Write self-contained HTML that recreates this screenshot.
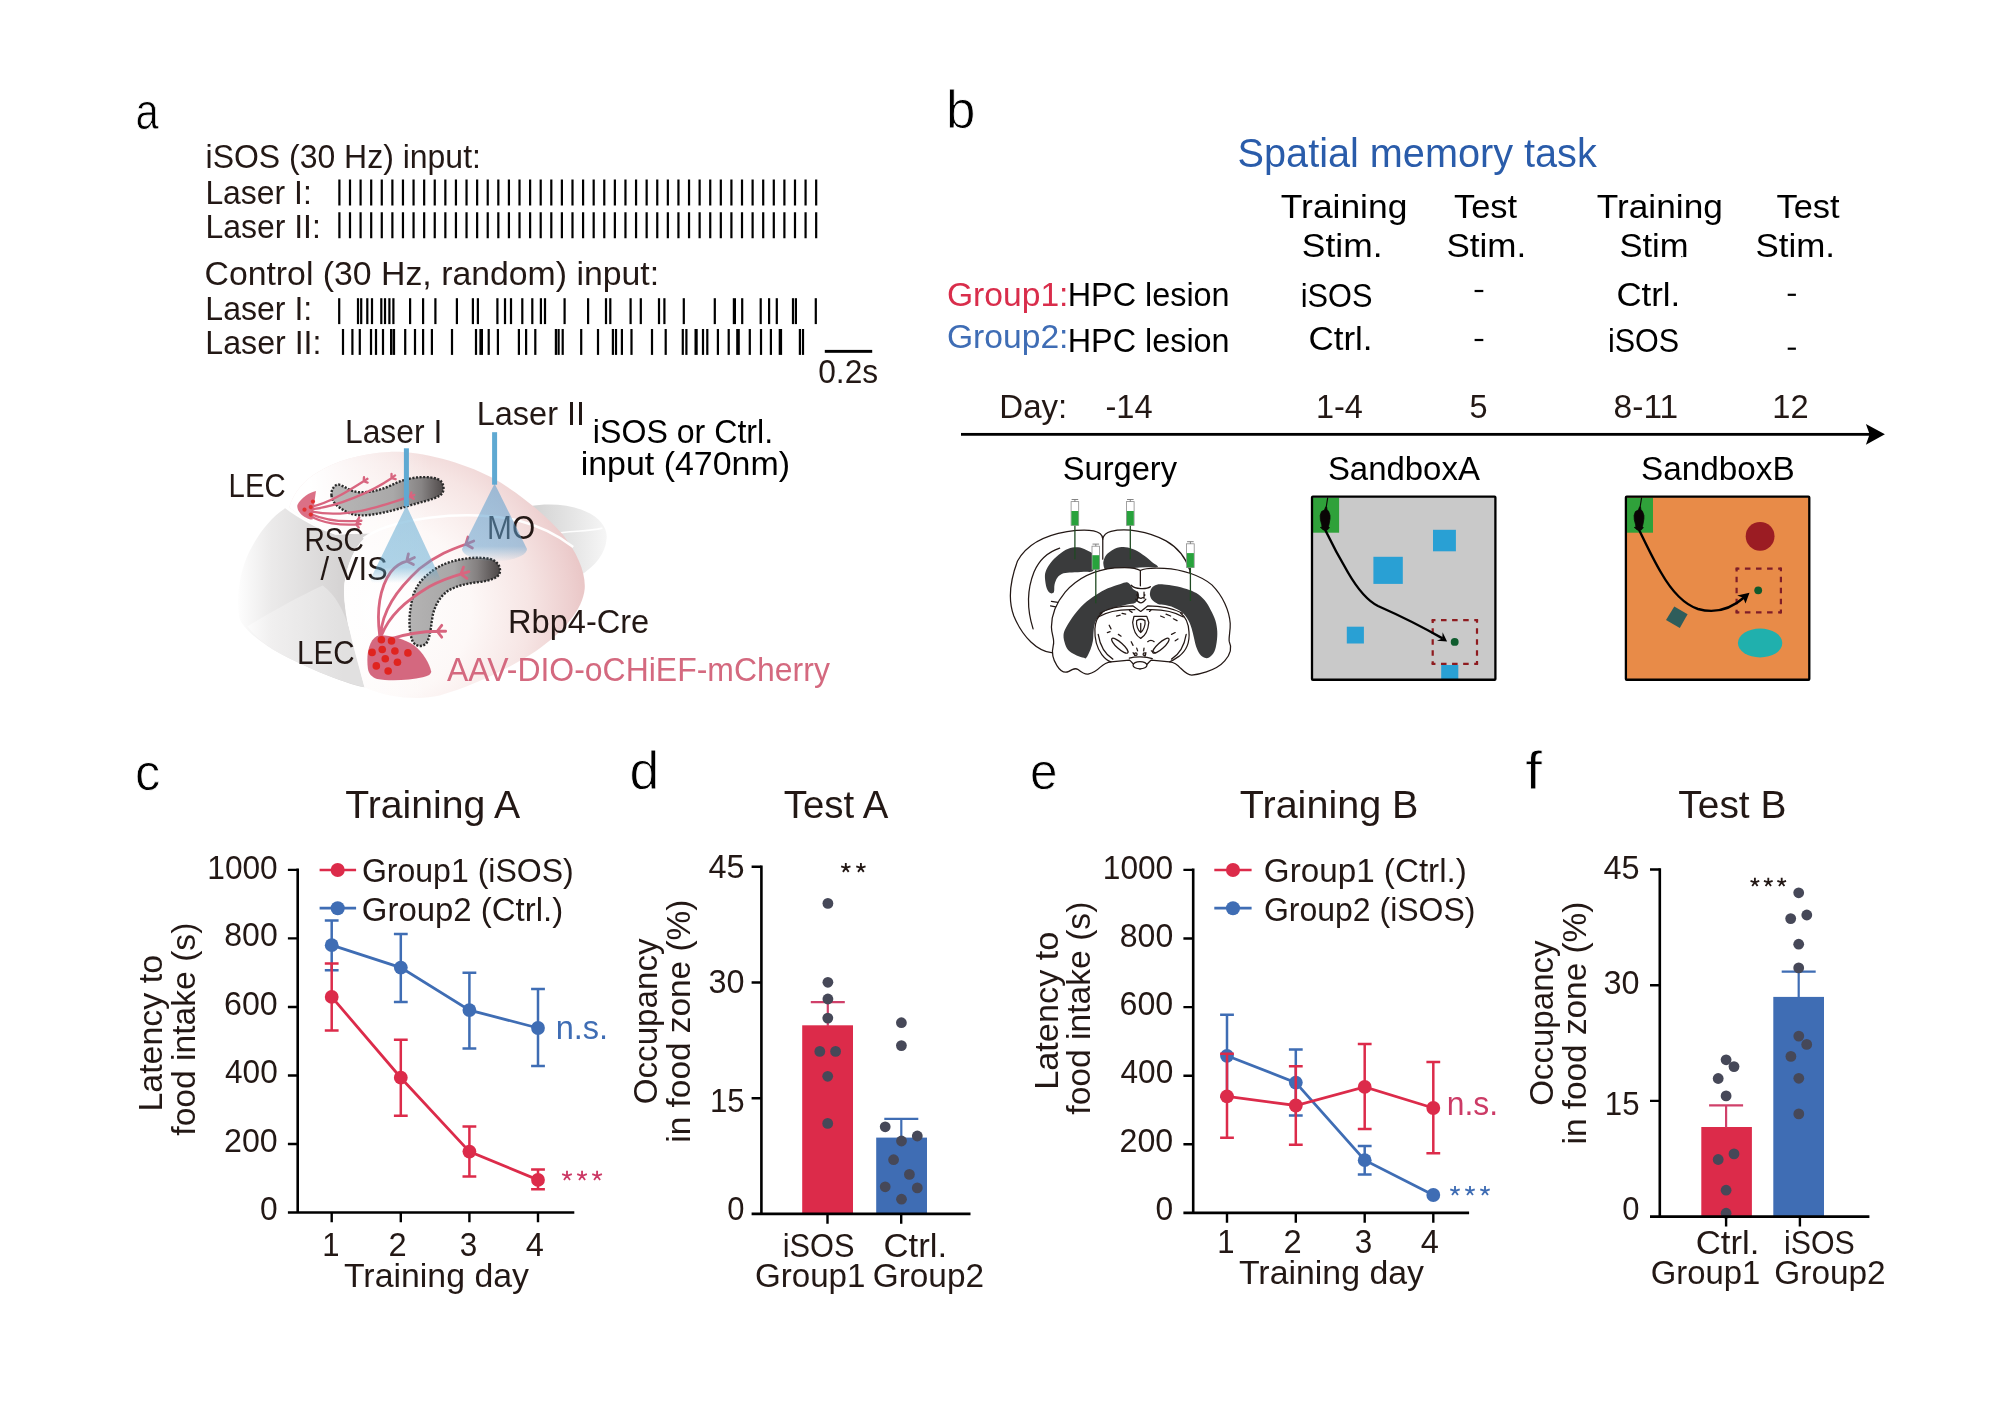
<!DOCTYPE html>
<html><head><meta charset="utf-8"><title>Figure</title>
<style>
html,body{margin:0;padding:0;background:#fff;}
body{width:2012px;height:1418px;overflow:hidden;}
svg{display:block;will-change:transform;font-family:"Liberation Sans",sans-serif;}
text{white-space:pre;}
text.pl{stroke:#fff;stroke-width:0.8px;}
</style></head><body>
<svg width="2012" height="1418" viewBox="0 0 2012 1418">
<rect width="2012" height="1418" fill="#fff"/>
<defs>
<radialGradient id="gPink" gradientUnits="userSpaceOnUse" cx="830" cy="860" r="1000">
<stop offset="0" stop-color="#fff"/><stop offset="0.42" stop-color="#fdf8f7"/><stop offset="0.7" stop-color="#f6e5e4"/><stop offset="0.9" stop-color="#edcfcf"/><stop offset="1" stop-color="#e8c3c3"/></radialGradient>
<linearGradient id="gFadeL" gradientUnits="userSpaceOnUse" x1="480" y1="0" x2="1050" y2="0">
<stop offset="0" stop-color="#fff" stop-opacity="1"/><stop offset="1" stop-color="#fff" stop-opacity="0"/></linearGradient>
<linearGradient id="gGrayL" gradientUnits="userSpaceOnUse" x1="120" y1="0" x2="620" y2="0">
<stop offset="0" stop-color="#fff"/><stop offset="0.35" stop-color="#ebeaea"/><stop offset="1" stop-color="#d6d4d4"/></linearGradient>
<linearGradient id="gGrayL2" gradientUnits="userSpaceOnUse" x1="150" y1="0" x2="640" y2="0">
<stop offset="0" stop-color="#fff"/><stop offset="0.3" stop-color="#f0efef"/><stop offset="1" stop-color="#e1e0e0"/></linearGradient>
<linearGradient id="gGrayR" gradientUnits="userSpaceOnUse" x1="1560" y1="0" x2="1900" y2="0">
<stop offset="0" stop-color="#d4d4d4"/><stop offset="0.55" stop-color="#e6e6e6"/><stop offset="1" stop-color="#f6f6f6"/></linearGradient>
<linearGradient id="gHipT" gradientUnits="userSpaceOnUse" x1="331" y1="0" x2="444" y2="0">
<stop offset="0" stop-color="#b8b7b7"/><stop offset="0.55" stop-color="#a9a8a8"/><stop offset="0.8" stop-color="#878484"/><stop offset="0.93" stop-color="#625d5d"/><stop offset="1" stop-color="#4e4949"/></linearGradient>
<linearGradient id="gHipB" gradientUnits="userSpaceOnUse" x1="409" y1="0" x2="500" y2="0">
<stop offset="0" stop-color="#b4b3b3"/><stop offset="0.5" stop-color="#a8a7a7"/><stop offset="0.75" stop-color="#848080"/><stop offset="0.92" stop-color="#5e5959"/><stop offset="1" stop-color="#4c4747"/></linearGradient>
<linearGradient id="gCone1" gradientUnits="userSpaceOnUse" x1="0" y1="505" x2="0" y2="583">
<stop offset="0" stop-color="#5fa9d2" stop-opacity="0.55"/><stop offset="0.8" stop-color="#5fa9d2" stop-opacity="0.5"/><stop offset="1" stop-color="#5fa9d2" stop-opacity="0"/></linearGradient>
<linearGradient id="gCone2" gradientUnits="userSpaceOnUse" x1="0" y1="483" x2="0" y2="562">
<stop offset="0" stop-color="#5fa0cf" stop-opacity="0.58"/><stop offset="0.8" stop-color="#5fa0cf" stop-opacity="0.52"/><stop offset="1" stop-color="#5fa9d2" stop-opacity="0"/></linearGradient>
</defs>
<g transform="translate(210 430) scale(0.20875)">
<path d="M1530 365C1620 350 1720 355 1800 390C1870 420 1905 470 1900 520C1895 590 1850 650 1770 700L1600 560Z" fill="url(#gGrayR)"/>
<path d="M1640 500C1720 480 1800 490 1880 470" stroke="#fff" stroke-width="8" fill="none" opacity="0.9"/>
<path d="M360 375C420 420 520 480 600 500L770 495C700 540 655 640 642 760C640 900 690 1060 740 1232C640 1215 420 1120 300 1050C220 1000 160 950 140 900C125 800 140 680 190 580C230 500 290 420 360 375Z" fill="url(#gGrayL)"/>
<path d="M540 745C600 790 640 860 670 960C700 1060 720 1150 740 1232C600 1200 400 1110 300 1050C240 1010 200 970 180 940C280 880 420 800 540 745Z" fill="url(#gGrayL2)"/>
<path id="hemi" d="M520 200C600 150 720 112 860 105C1000 100 1200 150 1350 228C1480 300 1600 400 1690 500C1760 590 1800 680 1795 760C1785 860 1700 960 1560 1060C1420 1150 1250 1230 1100 1272C1000 1295 860 1285 740 1232C700 1080 650 920 642 780C645 650 700 540 770 495L600 500C520 470 440 420 380 370C400 300 450 240 520 200Z" fill="url(#gPink)"/>
<path d="M520 200C600 150 720 112 860 105C1000 100 1200 150 1350 228C1480 300 1600 400 1690 500C1760 590 1800 680 1795 760C1785 860 1700 960 1560 1060C1420 1150 1250 1230 1100 1272C1000 1295 860 1285 740 1232C700 1080 650 920 642 780C645 650 700 540 770 495L600 500C520 470 440 420 380 370C400 300 450 240 520 200Z" fill="url(#gFadeL)"/>
<path d="M735 520C800 470 900 440 1050 420C1200 402 1350 405 1480 435C1580 460 1660 500 1740 560" stroke="#fff" stroke-width="12" fill="none" opacity="0.95"/>
</g>
<path d="M331.53 495.62C330.69 489.7 334.91 483.79 339.14 484.63C345.05 486.32 350.12 491.39 358.57 492.24C368.71 492.75 378.85 490.55 388.99 486.32C397.44 482.1 405.89 478.72 416.03 477.54C426.17 476.52 438 477.03 441.71 482.1C444.76 487.17 443.91 493.08 439.69 495.62C432.93 499.84 419.41 502.38 405.89 506.6C392.37 510.83 375.47 515.05 361.95 515.39C351.81 515.39 345.05 511.67 338.29 506.6C334.07 503.22 331.87 499.84 331.53 495.62Z" fill="url(#gHipT)" stroke="#2b2b2b" stroke-width="2.4" stroke-dasharray="2.05 1.5"/>
<path d="M412.65 641.39C408.42 631.25 408.42 614.36 412.65 597.46C416.03 583.94 426.17 573.8 439.69 566.19C453.21 559.43 473.49 556.05 488.69 558.59C497.14 560.28 501.37 567.04 499.68 572.95C497.99 578.02 490.38 580.56 480.24 581.91C468.42 583.09 456.59 585.63 448.14 590.7C439.69 596.61 434.62 605.91 432.59 616.05C430.9 626.18 430.39 636.32 427.01 642.24C423.63 647.31 416.03 647.31 412.65 641.39Z" fill="url(#gHipB)" stroke="#2b2b2b" stroke-width="2.4" stroke-dasharray="2.05 1.5"/>
<path d="M312.1 506.6C328.15 503.22 345.05 493.08 363.64 481.25M363.64 481.25L367.42 478.8M363.64 481.25L364.01 477.07M363.64 481.25L367.61 482.62M312.1 509.14C338.29 506.6 372.09 491.39 391.52 478.21M391.52 478.21L395.07 475.44M391.52 478.21L391.52 474.01M391.52 478.21L395.6 479.23M312.1 511.67C346.74 518.43 380.54 506.6 410.11 496.46M410.11 496.46L414.34 494.92M410.11 496.46L411.41 492.47M410.11 496.46L413.68 498.69M311.25 514.21C324.77 520.12 341.67 521.81 356.88 520.97M356.88 520.97L361.38 520.73M356.88 520.97L359.29 517.53M356.88 520.97L359.64 524.14M310.41 515.9C321.39 523.5 341.67 525.19 356.04 524.35M356.04 524.35L360.53 524.19M356.04 524.35L358.51 520.95M356.04 524.35L358.74 527.56" stroke="#d8657f" stroke-width="2.3" fill="none" stroke-linecap="round"/>
<path d="M379.7 635.48C376.32 610.98 379.7 587.32 390.68 572.11C395.75 565.35 400.82 562.81 406.73 561.12M406.73 561.12L414.44 557.53M406.73 561.12L408.42 553.82M406.73 561.12L413.42 564.53M380.54 635.48C382.23 610.98 395.75 590.7 419.41 568.73C436.31 555.21 451.52 549.29 465.88 544.22M465.88 544.22L473.76 541.04M465.88 544.22L467.95 537.02M465.88 544.22L472.38 547.97M381.39 635.48C388.99 616.05 404.2 601.68 429.55 586.47C441.38 580.22 451.52 576.84 460.81 574.14M460.81 574.14L468.94 571.65M460.81 574.14L463.5 567.13M460.81 574.14L466.95 578.44M390.68 638.86C404.2 634.63 421.1 631.25 437.15 631.25M437.15 631.25L445.65 631.25M437.15 631.25L441.77 625.34M437.15 631.25L441.77 637.16" stroke="#d8657f" stroke-width="2.8" fill="none" stroke-linecap="round"/>
<path d="M315.99 491.06C309.56 492.24 301.12 498.15 297.4 504.91C296.38 509.98 301.12 515.39 306.18 517.76C308.72 519.28 311.25 520.12 312.78 519.28C313.28 511.67 314.63 499.84 315.99 491.06Z" fill="#d8647c" opacity="0.92"/>
<circle cx="312.94" cy="501.53" r="2.1" fill="#e23030"/>
<circle cx="310.75" cy="507.11" r="2.1" fill="#e23030"/>
<circle cx="304.5" cy="509.64" r="2.1" fill="#e23030"/>
<circle cx="310.75" cy="514.55" r="2.1" fill="#e23030"/>
<path d="M378.85 635.48C387.3 634.63 402.51 638.01 414.34 645.62C422.79 652.38 429.55 663.36 431.24 671.81C430.39 675.19 427.86 676.04 422.79 677.22C409.27 680.26 388.99 681.11 377.16 678.91C371.25 676.88 368.71 673.5 367.87 668.43C366.68 658.29 367.36 648.15 372.09 640.55C374.12 637.68 376.32 635.99 378.85 635.48Z" fill="#d4687f"/>
<circle cx="381.39" cy="639.7" r="3.8" fill="#e0241f"/>
<circle cx="391.52" cy="640.89" r="3.8" fill="#e0241f"/>
<circle cx="372.09" cy="652.38" r="3.8" fill="#e0241f"/>
<circle cx="382.23" cy="649.51" r="3.8" fill="#e0241f"/>
<circle cx="394.9" cy="651.03" r="3.8" fill="#e0241f"/>
<circle cx="407.92" cy="652.89" r="3.8" fill="#e0241f"/>
<circle cx="385.27" cy="658.8" r="3.8" fill="#e0241f"/>
<circle cx="397.44" cy="662.18" r="3.8" fill="#e0241f"/>
<circle cx="376.32" cy="665.9" r="3.8" fill="#e0241f"/>
<circle cx="388.15" cy="670.97" r="3.8" fill="#e0241f"/>
<rect x="403.9" y="448.3" width="5" height="58" fill="#5fa9d2"/>
<rect x="492.1" y="432.2" width="5" height="52.5" fill="#5fa9d2"/>
<text x="344.99" y="443.2" font-size="34" fill="#231815" textLength="97.24" lengthAdjust="spacingAndGlyphs">Laser I</text>
<text x="476.74" y="425.4" font-size="34" fill="#231815" textLength="108.26" lengthAdjust="spacingAndGlyphs">Laser II</text>
<text x="592.85" y="443.2" font-size="34" fill="#000" textLength="180.28" lengthAdjust="spacingAndGlyphs">iSOS or Ctrl.</text>
<text x="580.73" y="475.4" font-size="34" fill="#000" textLength="209.27" lengthAdjust="spacingAndGlyphs">input (470nm)</text>
<text x="228.6" y="496.5" font-size="34" fill="#231815" textLength="57.02" lengthAdjust="spacingAndGlyphs">LEC</text>
<text x="304.49" y="551.2" font-size="34" fill="#231815" textLength="59.38" lengthAdjust="spacingAndGlyphs">RSC</text>
<text x="320.5" y="580.2" font-size="34" fill="#231815" textLength="67.33" lengthAdjust="spacingAndGlyphs">/ VIS</text>
<text x="296.97" y="664.2" font-size="34" fill="#231815" textLength="57.66" lengthAdjust="spacingAndGlyphs">LEC</text>
<text x="487.05" y="538.6" font-size="34" fill="#231815" textLength="48.08" lengthAdjust="spacingAndGlyphs">MO</text>
<text x="508.03" y="633" font-size="34" fill="#231815" textLength="141.22" lengthAdjust="spacingAndGlyphs">Rbp4-Cre</text>
<text x="446.94" y="681" font-size="34" fill="#d4697f" textLength="382.92" lengthAdjust="spacingAndGlyphs">AAV-DIO-oCHiEF-mCherry</text>
<path d="M406.4 505.5L440.5 579L438 583L372 583L370.5 579Z" fill="url(#gCone1)"/>
<path d="M494.6 483.5L527 549C527 556 510 561.5 494.6 561.5C479 561.5 462 556 462 549Z" fill="url(#gCone2)"/>
<text x="135.48" y="128.6" font-size="52" fill="#000" textLength="23.22" lengthAdjust="spacingAndGlyphs" class="pl">a</text>
<text x="205.56" y="167.7" font-size="34" fill="#231815" textLength="275.36" lengthAdjust="spacingAndGlyphs">iSOS (30 Hz) input:</text>
<text x="205.38" y="203.7" font-size="34" fill="#231815" textLength="106.43" lengthAdjust="spacingAndGlyphs">Laser I:</text>
<text x="205.38" y="237.7" font-size="34" fill="#231815" textLength="115.44" lengthAdjust="spacingAndGlyphs">Laser II:</text>
<text x="204.48" y="284.7" font-size="34" fill="#231815" textLength="454.6" lengthAdjust="spacingAndGlyphs">Control (30 Hz, random) input:</text>
<text x="205.37" y="320" font-size="34" fill="#231815" textLength="106.85" lengthAdjust="spacingAndGlyphs">Laser I:</text>
<text x="205.36" y="353.8" font-size="34" fill="#231815" textLength="116.07" lengthAdjust="spacingAndGlyphs">Laser II:</text>
<text x="818.16" y="382.6" font-size="34" fill="#231815" textLength="59.99" lengthAdjust="spacingAndGlyphs">0.2s</text>
<path d="M339.4 179.4V205.5M339.4 212.3V238.3M350 179.4V205.5M350 212.3V238.3M360.59 179.4V205.5M360.59 212.3V238.3M371.19 179.4V205.5M371.19 212.3V238.3M381.78 179.4V205.5M381.78 212.3V238.3M392.38 179.4V205.5M392.38 212.3V238.3M402.97 179.4V205.5M402.97 212.3V238.3M413.56 179.4V205.5M413.56 212.3V238.3M424.16 179.4V205.5M424.16 212.3V238.3M434.75 179.4V205.5M434.75 212.3V238.3M445.35 179.4V205.5M445.35 212.3V238.3M455.94 179.4V205.5M455.94 212.3V238.3M466.54 179.4V205.5M466.54 212.3V238.3M477.13 179.4V205.5M477.13 212.3V238.3M487.73 179.4V205.5M487.73 212.3V238.3M498.32 179.4V205.5M498.32 212.3V238.3M508.92 179.4V205.5M508.92 212.3V238.3M519.51 179.4V205.5M519.51 212.3V238.3M530.11 179.4V205.5M530.11 212.3V238.3M540.7 179.4V205.5M540.7 212.3V238.3M551.3 179.4V205.5M551.3 212.3V238.3M561.89 179.4V205.5M561.89 212.3V238.3M572.49 179.4V205.5M572.49 212.3V238.3M583.09 179.4V205.5M583.09 212.3V238.3M593.68 179.4V205.5M593.68 212.3V238.3M604.27 179.4V205.5M604.27 212.3V238.3M614.87 179.4V205.5M614.87 212.3V238.3M625.46 179.4V205.5M625.46 212.3V238.3M636.06 179.4V205.5M636.06 212.3V238.3M646.65 179.4V205.5M646.65 212.3V238.3M657.25 179.4V205.5M657.25 212.3V238.3M667.85 179.4V205.5M667.85 212.3V238.3M678.44 179.4V205.5M678.44 212.3V238.3M689.04 179.4V205.5M689.04 212.3V238.3M699.63 179.4V205.5M699.63 212.3V238.3M710.23 179.4V205.5M710.23 212.3V238.3M720.82 179.4V205.5M720.82 212.3V238.3M731.41 179.4V205.5M731.41 212.3V238.3M742.01 179.4V205.5M742.01 212.3V238.3M752.61 179.4V205.5M752.61 212.3V238.3M763.2 179.4V205.5M763.2 212.3V238.3M773.8 179.4V205.5M773.8 212.3V238.3M784.39 179.4V205.5M784.39 212.3V238.3M794.99 179.4V205.5M794.99 212.3V238.3M805.58 179.4V205.5M805.58 212.3V238.3M816.17 179.4V205.5M816.17 212.3V238.3" stroke="#000" stroke-width="2.2" fill="none"/>
<rect x="338.1" y="298.2" width="2.2" height="25.9" fill="#000"/>
<rect x="356.9" y="298.2" width="2.2" height="25.9" fill="#000"/>
<rect x="360.1" y="298.2" width="2.2" height="25.9" fill="#000"/>
<rect x="366.2" y="298.2" width="2.2" height="25.9" fill="#000"/>
<rect x="370.9" y="298.2" width="2.2" height="25.9" fill="#000"/>
<rect x="380.2" y="298.2" width="2.2" height="25.9" fill="#000"/>
<rect x="383.9" y="298.2" width="2.2" height="25.9" fill="#000"/>
<rect x="388.3" y="298.2" width="2.2" height="25.9" fill="#000"/>
<rect x="392.3" y="298.2" width="2.2" height="25.9" fill="#000"/>
<rect x="409" y="298.2" width="2.2" height="25.9" fill="#000"/>
<rect x="422" y="298.2" width="2.2" height="25.9" fill="#000"/>
<rect x="434.3" y="298.2" width="2.2" height="25.9" fill="#000"/>
<rect x="455.8" y="298.2" width="2.2" height="25.9" fill="#000"/>
<rect x="471.8" y="298.2" width="2.2" height="25.9" fill="#000"/>
<rect x="476.8" y="298.2" width="2.2" height="25.9" fill="#000"/>
<rect x="496.3" y="298.2" width="2.2" height="25.9" fill="#000"/>
<rect x="503.9" y="298.2" width="2.2" height="25.9" fill="#000"/>
<rect x="509.9" y="298.2" width="2.2" height="25.9" fill="#000"/>
<rect x="521.2" y="298.2" width="2.2" height="25.9" fill="#000"/>
<rect x="531.2" y="298.2" width="2.2" height="25.9" fill="#000"/>
<rect x="539.8" y="298.2" width="2.2" height="25.9" fill="#000"/>
<rect x="543.9" y="298.2" width="2.2" height="25.9" fill="#000"/>
<rect x="563.5" y="298.2" width="2.2" height="25.9" fill="#000"/>
<rect x="587" y="298.2" width="2.2" height="25.9" fill="#000"/>
<rect x="604.9" y="298.2" width="2.2" height="25.9" fill="#000"/>
<rect x="609.2" y="298.2" width="2.2" height="25.9" fill="#000"/>
<rect x="629.5" y="298.2" width="2.2" height="25.9" fill="#000"/>
<rect x="639.7" y="298.2" width="2.2" height="25.9" fill="#000"/>
<rect x="657.9" y="298.2" width="2.2" height="25.9" fill="#000"/>
<rect x="663.3" y="298.2" width="2.2" height="25.9" fill="#000"/>
<rect x="682.7" y="298.2" width="2.2" height="25.9" fill="#000"/>
<rect x="713.7" y="298.2" width="2.2" height="25.9" fill="#000"/>
<rect x="732.8" y="298.2" width="3.2" height="25.9" fill="#000"/>
<rect x="741.1" y="298.2" width="2.2" height="25.9" fill="#000"/>
<rect x="759.6" y="298.2" width="2.2" height="25.9" fill="#000"/>
<rect x="768" y="298.2" width="2.2" height="25.9" fill="#000"/>
<rect x="775.7" y="298.2" width="2.2" height="25.9" fill="#000"/>
<rect x="791.9" y="298.2" width="2.2" height="25.9" fill="#000"/>
<rect x="794.8" y="298.2" width="2.2" height="25.9" fill="#000"/>
<rect x="814.7" y="298.2" width="2.2" height="25.9" fill="#000"/>
<rect x="341.9" y="329" width="2.2" height="25.9" fill="#000"/>
<rect x="351.3" y="329" width="2.2" height="25.9" fill="#000"/>
<rect x="358.7" y="329" width="2.2" height="25.9" fill="#000"/>
<rect x="369.9" y="329" width="2.2" height="25.9" fill="#000"/>
<rect x="374.9" y="329" width="2.2" height="25.9" fill="#000"/>
<rect x="381.9" y="329" width="2.2" height="25.9" fill="#000"/>
<rect x="390" y="329" width="2.2" height="25.9" fill="#000"/>
<rect x="392.5" y="329" width="2.6" height="25.9" fill="#000"/>
<rect x="404.1" y="329" width="2.2" height="25.9" fill="#000"/>
<rect x="413.9" y="329" width="2.2" height="25.9" fill="#000"/>
<rect x="422" y="329" width="2.2" height="25.9" fill="#000"/>
<rect x="430.8" y="329" width="2.2" height="25.9" fill="#000"/>
<rect x="450.9" y="329" width="2.2" height="25.9" fill="#000"/>
<rect x="474.9" y="329" width="2.2" height="25.9" fill="#000"/>
<rect x="479.4" y="329" width="3.6" height="25.9" fill="#000"/>
<rect x="487.6" y="329" width="2.2" height="25.9" fill="#000"/>
<rect x="496.8" y="329" width="2.2" height="25.9" fill="#000"/>
<rect x="517.8" y="329" width="2.2" height="25.9" fill="#000"/>
<rect x="525" y="329" width="2.2" height="25.9" fill="#000"/>
<rect x="534.2" y="329" width="2.2" height="25.9" fill="#000"/>
<rect x="554.8" y="329" width="2.2" height="25.9" fill="#000"/>
<rect x="557.5" y="329" width="2.2" height="25.9" fill="#000"/>
<rect x="561.6" y="329" width="2.2" height="25.9" fill="#000"/>
<rect x="580.1" y="329" width="2.2" height="25.9" fill="#000"/>
<rect x="596.9" y="329" width="2.2" height="25.9" fill="#000"/>
<rect x="611.8" y="329" width="2.2" height="25.9" fill="#000"/>
<rect x="614.9" y="329" width="2.2" height="25.9" fill="#000"/>
<rect x="620.8" y="329" width="2.2" height="25.9" fill="#000"/>
<rect x="630.4" y="329" width="2.2" height="25.9" fill="#000"/>
<rect x="650.9" y="329" width="2.2" height="25.9" fill="#000"/>
<rect x="664.6" y="329" width="2.2" height="25.9" fill="#000"/>
<rect x="681.7" y="329" width="2.2" height="25.9" fill="#000"/>
<rect x="685.3" y="329" width="2.2" height="25.9" fill="#000"/>
<rect x="694.5" y="329" width="3.2" height="25.9" fill="#000"/>
<rect x="701.9" y="329" width="2.2" height="25.9" fill="#000"/>
<rect x="706.2" y="329" width="2.2" height="25.9" fill="#000"/>
<rect x="716.8" y="329" width="2.2" height="25.9" fill="#000"/>
<rect x="727.6" y="329" width="2.2" height="25.9" fill="#000"/>
<rect x="736.2" y="329" width="3.6" height="25.9" fill="#000"/>
<rect x="748.7" y="329" width="2.2" height="25.9" fill="#000"/>
<rect x="759.9" y="329" width="2.2" height="25.9" fill="#000"/>
<rect x="769.8" y="329" width="2.2" height="25.9" fill="#000"/>
<rect x="778.7" y="329" width="3.4" height="25.9" fill="#000"/>
<rect x="798.8" y="329" width="2.2" height="25.9" fill="#000"/>
<rect x="801.9" y="329" width="2.2" height="25.9" fill="#000"/>
<rect x="824.8" y="349.9" width="47.4" height="2.9" fill="#000"/>
<text x="946.09" y="128.1" font-size="54.5" fill="#000" textLength="29.43" lengthAdjust="spacingAndGlyphs" class="pl">b</text>
<text x="1237.6" y="167.3" font-size="40" fill="#2a5caa" textLength="359.14" lengthAdjust="spacingAndGlyphs">Spatial memory task</text>
<text x="1280.81" y="217.5" font-size="34" fill="#000" textLength="126.54" lengthAdjust="spacingAndGlyphs">Training</text>
<text x="1301.89" y="256.8" font-size="34" fill="#000" textLength="80.64" lengthAdjust="spacingAndGlyphs">Stim.</text>
<text x="1453.97" y="217.7" font-size="34" fill="#000" textLength="63.07" lengthAdjust="spacingAndGlyphs">Test</text>
<text x="1446.41" y="256.7" font-size="34" fill="#000" textLength="79.79" lengthAdjust="spacingAndGlyphs">Stim.</text>
<text x="1596.82" y="217.7" font-size="34" fill="#000" textLength="126.03" lengthAdjust="spacingAndGlyphs">Training</text>
<text x="1619.43" y="256.7" font-size="34" fill="#000" textLength="69.15" lengthAdjust="spacingAndGlyphs">Stim</text>
<rect x="1681.2" y="256" width="1.2" height="1.2" fill="#000"/>
<text x="1776.47" y="217.7" font-size="34" fill="#000" textLength="63.17" lengthAdjust="spacingAndGlyphs">Test</text>
<text x="1755.51" y="256.7" font-size="34" fill="#000" textLength="79.58" lengthAdjust="spacingAndGlyphs">Stim.</text>
<text x="946.91" y="306" font-size="34" fill="#d92d4b" textLength="121.56" lengthAdjust="spacingAndGlyphs">Group1:</text>
<text x="1067.75" y="306" font-size="34" fill="#000" textLength="161.86" lengthAdjust="spacingAndGlyphs">HPC lesion</text>
<text x="1300.74" y="307.2" font-size="34" fill="#000" textLength="71.77" lengthAdjust="spacingAndGlyphs">iSOS</text>
<text x="946.91" y="347.5" font-size="34" fill="#3f6db5" textLength="121.56" lengthAdjust="spacingAndGlyphs">Group2:</text>
<text x="1067.75" y="351.9" font-size="34" fill="#000" textLength="161.86" lengthAdjust="spacingAndGlyphs">HPC lesion</text>
<text x="1308.42" y="350" font-size="34" fill="#000" textLength="64.17" lengthAdjust="spacingAndGlyphs">Ctrl.</text>
<text x="1616.43" y="306" font-size="34" fill="#000" textLength="63.85" lengthAdjust="spacingAndGlyphs">Ctrl.</text>
<text x="1607.96" y="351.9" font-size="34" fill="#000" textLength="71.24" lengthAdjust="spacingAndGlyphs">iSOS</text>
<rect x="1474.6" y="289.9" width="8.7" height="2.2" fill="#000"/>
<rect x="1474.6" y="338.9" width="8.7" height="2.2" fill="#000"/>
<rect x="1787.7" y="293.7" width="8.2" height="2.2" fill="#000"/>
<rect x="1787.7" y="347.6" width="8.2" height="2.2" fill="#000"/>
<text x="999.29" y="417.8" font-size="34" fill="#231815" textLength="67.93" lengthAdjust="spacingAndGlyphs">Day:</text>
<text x="1105.45" y="417.8" font-size="34" fill="#231815" textLength="47.21" lengthAdjust="spacingAndGlyphs">-14</text>
<text x="1315.93" y="417.8" font-size="34" fill="#231815" textLength="46.92" lengthAdjust="spacingAndGlyphs">1-4</text>
<text x="1469.5" y="417.5" font-size="34" fill="#231815" textLength="18.06" lengthAdjust="spacingAndGlyphs">5</text>
<text x="1613.6" y="417.5" font-size="34" fill="#231815" textLength="64.58" lengthAdjust="spacingAndGlyphs">8-11</text>
<text x="1772.31" y="417.5" font-size="34" fill="#231815" textLength="36.33" lengthAdjust="spacingAndGlyphs">12</text>
<rect x="961" y="432.95" width="909" height="2.8" fill="#000"/>
<path d="M1884.9 434.35L1865.9 423.9L1869.6 434.35L1865.9 444.8Z" fill="#000"/>
<text x="1062.82" y="480.3" font-size="34" fill="#000" textLength="114.25" lengthAdjust="spacingAndGlyphs">Surgery</text>
<text x="1327.9" y="480.3" font-size="34" fill="#000" textLength="151.96" lengthAdjust="spacingAndGlyphs">SandboxA</text>
<text x="1640.99" y="480.3" font-size="34" fill="#000" textLength="153.67" lengthAdjust="spacingAndGlyphs">SandboxB</text>
<rect x="1312" y="496.65" width="183.4" height="183.1" fill="#c9c9c9"/>
<rect x="1313" y="497.7" width="26.1" height="35" fill="#2fa13a"/>
<rect x="1433" y="529.8" width="22.9" height="21.5" fill="#29a0d4"/>
<rect x="1373.4" y="556.8" width="29.4" height="27.1" fill="#29a0d4"/>
<rect x="1346.8" y="626.7" width="17.1" height="16.8" fill="#29a0d4"/>
<rect x="1441.2" y="665" width="17.1" height="14.8" fill="#29a0d4"/>
<path d="M1432.7 620.1L1477 620.1" stroke="#8e1b1f" stroke-width="2.2" stroke-dasharray="5.54 5.54" stroke-dashoffset="2.77" fill="none"/><path d="M1477 620.1L1477 663.9" stroke="#8e1b1f" stroke-width="2.2" stroke-dasharray="5.47 5.47" stroke-dashoffset="2.74" fill="none"/><path d="M1477 663.9L1432.7 663.9" stroke="#8e1b1f" stroke-width="2.2" stroke-dasharray="5.54 5.54" stroke-dashoffset="2.77" fill="none"/><path d="M1432.7 663.9L1432.7 620.1" stroke="#8e1b1f" stroke-width="2.2" stroke-dasharray="5.47 5.47" stroke-dashoffset="2.74" fill="none"/><rect x="1431.6" y="619" width="2.2" height="2.2" fill="#8e1b1f"/><rect x="1475.9" y="619" width="2.2" height="2.2" fill="#8e1b1f"/><rect x="1475.9" y="662.8" width="2.2" height="2.2" fill="#8e1b1f"/><rect x="1431.6" y="662.8" width="2.2" height="2.2" fill="#8e1b1f"/>
<circle cx="1454.7" cy="641.9" r="3.95" fill="#0f5c2e"/>
<path d="M1325 529.5C1332 544 1340 559 1348 572.5C1357 588 1366 600 1378 606C1395 613.5 1420 625.5 1442.5 638.4" stroke="#000" stroke-width="2.4" fill="none"/>
<path d="M1447.1 641.6L1436.9 640.7L1442.3 638.5L1442.6 632.3Z" fill="#000"/>
<path d="M1325.7 506.9 L1324.5 509.9 L1321.5 511.6 L1320.2 515.4 L1320.4 519.6 L1321.7 524.7 L1322.1 526.9 L1320.4 527.5 L1322.4 528.9 L1323.2 530 L1327.4 530 L1328.3 528.7 L1329.5 527.7 L1328.4 526.8 L1329.1 523.9 L1330 518.8 L1330 515.4 L1328.7 511.6 L1327 509.5 L1326.6 506.9Z" fill="#0a0505" stroke="#0a0505" stroke-width="0.8" stroke-linejoin="round"/><path d="M1326.2 507.1L1327.7 497.7" stroke="#0a0505" stroke-width="1.1" fill="none"/>
<rect x="1312" y="496.65" width="183.4" height="183.1" rx="0.8" fill="none" stroke="#000" stroke-width="2.3"/>
<rect x="1625.9" y="496.65" width="183.4" height="183.1" fill="#e88b48"/>
<rect x="1626.9" y="497.7" width="26.1" height="35" fill="#2fa13a"/>
<circle cx="1760.1" cy="536.3" r="14.4" fill="#9b1c23"/>
<ellipse cx="1760.1" cy="643" rx="22.2" ry="14.4" fill="#20b0ad"/>
<path d="M1674.3 606.5L1687.6 614.2L1679.8 627.9L1666 620Z" fill="#2f5d5b"/>
<path d="M1736.6 568.6L1780.9 568.6" stroke="#7e1d28" stroke-width="2.2" stroke-dasharray="5.54 5.54" stroke-dashoffset="2.77" fill="none"/><path d="M1780.9 568.6L1780.9 612.4" stroke="#7e1d28" stroke-width="2.2" stroke-dasharray="5.47 5.47" stroke-dashoffset="2.74" fill="none"/><path d="M1780.9 612.4L1736.6 612.4" stroke="#7e1d28" stroke-width="2.2" stroke-dasharray="5.54 5.54" stroke-dashoffset="2.77" fill="none"/><path d="M1736.6 612.4L1736.6 568.6" stroke="#7e1d28" stroke-width="2.2" stroke-dasharray="5.47 5.47" stroke-dashoffset="2.74" fill="none"/><rect x="1735.5" y="567.5" width="2.2" height="2.2" fill="#7e1d28"/><rect x="1779.8" y="567.5" width="2.2" height="2.2" fill="#7e1d28"/><rect x="1779.8" y="611.3" width="2.2" height="2.2" fill="#7e1d28"/><rect x="1735.5" y="611.3" width="2.2" height="2.2" fill="#7e1d28"/>
<circle cx="1758.2" cy="590.3" r="3.9" fill="#0f5a2d"/>
<path d="M1638.9 529.5C1646 544 1653 559 1661 572.5C1671 590 1683 604 1698 609C1716 614 1732 608 1744 597.5" stroke="#000" stroke-width="2.4" fill="none"/>
<path d="M1749.5 592.8L1745.5 603.5L1743.2 597.8L1737.2 595.5Z" fill="#000"/>
<path d="M1639.6 506.9 L1638.4 509.9 L1635.4 511.6 L1634.1 515.4 L1634.3 519.6 L1635.6 524.7 L1636 526.9 L1634.3 527.5 L1636.3 528.9 L1637.1 530 L1641.3 530 L1642.2 528.7 L1643.4 527.7 L1642.3 526.8 L1643 523.9 L1643.9 518.8 L1643.9 515.4 L1642.6 511.6 L1640.9 509.5 L1640.5 506.9Z" fill="#0a0505" stroke="#0a0505" stroke-width="0.8" stroke-linejoin="round"/><path d="M1640.1 507.1L1641.6 497.7" stroke="#0a0505" stroke-width="1.1" fill="none"/>
<rect x="1625.9" y="496.65" width="183.4" height="183.1" rx="0.8" fill="none" stroke="#000" stroke-width="2.3"/>
<g transform="translate(990 440) scale(0.18337)" stroke="#231815" stroke-width="1.25" fill="none" stroke-linejoin="round" stroke-linecap="round">
<path d="M335 1160C260 1150 180 1080 130 960C100 880 105 780 150 660C200 570 300 520 420 500C500 488 570 490 600 510C612 520 615 530 615 540C618 525 630 505 660 498C740 480 860 495 960 550C1030 590 1070 650 1090 710L1090 1000L600 1160Z" fill="#fff" vector-effect="non-scaling-stroke"/>
<path d="M615 540V650M235 1030C200 920 200 820 240 720C270 650 320 610 380 590M335 880L370 885M330 905L365 912" vector-effect="non-scaling-stroke"/>
<path d="M1044.95 577.53C1044.85 574.54 1045.25 572.74 1046.15 570.34C1047.05 567.94 1048.24 565.75 1050.34 563.15C1052.44 560.55 1055.74 557.16 1058.73 554.76C1061.73 552.36 1065.12 550.01 1068.32 548.77C1071.52 547.53 1074.91 547.13 1077.91 547.33C1080.91 547.53 1083.7 548.63 1086.3 549.97C1088.9 551.3 1092.29 551.96 1093.49 555.36C1094.69 558.76 1095.09 567.6 1093.49 570.34C1091.89 573.08 1087.5 571.42 1083.9 571.78C1080.31 572.14 1075.31 572.24 1071.92 572.5C1068.52 572.76 1065.92 572.5 1063.53 573.34C1061.13 574.18 1059.03 575.64 1057.53 577.53C1056.03 579.43 1055.14 582.33 1054.54 584.72C1053.94 587.12 1054.64 590.52 1053.94 591.92C1053.24 593.31 1051.54 593.71 1050.34 593.12C1049.14 592.52 1047.64 590.92 1046.75 588.32C1045.85 585.72 1045.05 580.53 1044.95 577.53Z" fill="#3a3b3c" stroke="none" transform="translate(-5399.06 -2399.52) scale(5.4535)"/>
<path d="M1104.01 559.55C1104.71 557.76 1105.41 555.52 1107.6 553.56C1109.8 551.6 1114.2 548.85 1117.19 547.81C1120.19 546.77 1122.59 546.97 1125.58 547.33C1128.58 547.69 1131.97 548.53 1135.17 549.97C1138.37 551.4 1141.96 553.96 1144.76 555.96C1147.56 557.96 1149.75 560.11 1151.95 561.95C1154.15 563.79 1158.94 566.09 1157.94 566.99C1156.95 567.88 1149.95 567.19 1145.96 567.35C1141.96 567.5 1137.97 567.74 1133.97 567.94C1129.98 568.14 1125.98 568.34 1121.99 568.54C1117.99 568.74 1112.8 568.94 1110 569.14C1107.2 569.34 1106.3 570.54 1105.21 569.74C1104.11 568.94 1103.61 566.05 1103.41 564.35C1103.21 562.65 1103.31 561.35 1104.01 559.55Z" fill="#3a3b3c" stroke="none" transform="translate(-5399.06 -2399.52) scale(5.4535)"/>
<path d="M820 712C800 698 740 693 680 698C580 708 480 750 410 830C360 890 335 960 335 1020C335 1060 355 1090 345 1120C335 1160 345 1200 365 1230C385 1262 410 1272 430 1262C450 1250 465 1240 480 1252C500 1268 520 1280 535 1277C560 1270 585 1255 600 1240C620 1222 640 1212 660 1210L760 1200C780 1215 790 1240 818 1248C850 1240 860 1215 880 1200L980 1210C1000 1212 1020 1222 1040 1245C1060 1265 1080 1282 1100 1282C1130 1280 1160 1272 1180 1265C1210 1255 1250 1240 1280 1205C1310 1170 1322 1135 1305 1100C1300 1080 1312 1040 1310 1000C1305 930 1270 850 1210 790C1150 740 1050 705 950 700C890 697 840 700 820 712Z" fill="#fff" vector-effect="non-scaling-stroke"/>
<path d="M820 712V795" vector-effect="non-scaling-stroke"/>
<path d="M1127.05 582.33C1128.85 582.53 1129.65 584.23 1130.65 585.32C1131.65 586.42 1131.85 587.82 1133.05 588.92C1134.24 590.02 1136.84 590.62 1137.84 591.92C1138.84 593.22 1139.44 594.91 1139.04 596.71C1138.64 598.51 1137.44 601.41 1135.44 602.7C1133.45 604 1130.45 603.7 1127.05 604.5C1123.66 605.3 1118.66 606.4 1115.07 607.5C1111.47 608.6 1108.27 609.5 1105.48 611.09C1102.68 612.69 1100.08 614.89 1098.29 617.09C1096.49 619.28 1095.49 621.68 1094.69 624.28C1093.89 626.88 1093.79 629.87 1093.49 632.67C1093.19 635.47 1093.39 638.26 1092.89 641.06C1092.39 643.86 1091.59 646.65 1090.5 649.45C1089.4 652.25 1087.4 656.44 1086.3 657.84C1085.2 659.24 1085.5 658.24 1083.9 657.84C1082.3 657.44 1079.11 656.54 1076.71 655.44C1074.31 654.34 1071.42 653.05 1069.52 651.25C1067.62 649.45 1066.32 647.35 1065.32 644.66C1064.33 641.96 1063.33 638.06 1063.53 635.07C1063.73 632.07 1064.72 630.07 1066.52 626.68C1068.32 623.28 1071.42 618.49 1074.31 614.69C1077.21 610.89 1080.31 607.2 1083.9 603.9C1087.5 600.61 1091.89 597.51 1095.89 594.91C1099.88 592.32 1103.88 590.12 1107.87 588.32C1111.87 586.52 1116.66 585.12 1119.86 584.13C1123.06 583.13 1125.25 582.13 1127.05 582.33Z" fill="#3a3b3c" stroke="none" transform="translate(-5399.06 -2399.52) scale(5.4535)"/>
<path d="M1150.15 591.92C1150.45 590.52 1150.85 588.92 1151.95 587.72C1153.05 586.52 1154.75 585.26 1156.75 584.72C1158.74 584.19 1160.94 584.29 1163.94 584.49C1166.93 584.68 1170.93 585.18 1174.72 585.92C1178.52 586.66 1183.12 587.72 1186.71 588.92C1190.31 590.12 1193.3 591.22 1196.3 593.12C1199.3 595.01 1202.29 597.51 1204.69 600.31C1207.09 603.1 1208.89 606.5 1210.68 609.9C1212.48 613.29 1214.38 617.09 1215.48 620.68C1216.58 624.28 1217.08 627.87 1217.28 631.47C1217.48 635.07 1217.18 638.86 1216.68 642.26C1216.18 645.65 1215.48 649.35 1214.28 651.85C1213.08 654.34 1211.08 656.24 1209.48 657.24C1207.89 658.24 1206.29 658.34 1204.69 657.84C1203.09 657.34 1201.29 656.04 1199.9 654.24C1198.5 652.45 1197.3 649.85 1196.3 647.05C1195.3 644.26 1194.7 640.66 1193.9 637.46C1193.1 634.27 1192.5 630.87 1191.51 627.87C1190.51 624.88 1189.51 622.08 1187.91 619.48C1186.31 616.89 1184.31 614.29 1181.92 612.29C1179.52 610.3 1176.32 608.7 1173.53 607.5C1170.73 606.3 1167.73 605.7 1165.14 605.1C1162.54 604.5 1160.04 604.7 1157.94 603.9C1155.85 603.1 1153.85 601.61 1152.55 600.31C1151.25 599.01 1150.55 597.51 1150.15 596.11C1149.75 594.71 1149.85 593.31 1150.15 591.92Z" fill="#3a3b3c" stroke="none" transform="translate(-5399.06 -2399.52) scale(5.4535)"/>
<path d="M770 792C790 815 855 815 875 800M800 845C815 870 830 870 845 845M795 868C815 895 830 895 850 868M805 830V865M840 830V865M600 945C650 915 720 905 780 905L822 935L860 905C920 905 990 915 1050 945M590 965C640 935 720 922 790 925M1055 965C1005 935 925 922 855 925" vector-effect="non-scaling-stroke"/>
<path d="M572 1030C575 985 590 960 610 945M572 1030C570 1080 580 1130 610 1170C625 1190 645 1205 660 1210M1085 1045C1082 990 1060 960 1040 945M1085 1045C1090 1100 1070 1150 1030 1180C1000 1200 985 1208 980 1210M590 1060C600 1120 630 1170 670 1195M1070 1060C1060 1120 1030 1170 990 1195" vector-effect="non-scaling-stroke"/>
<path d="M785 962L855 962L866 995C862 1040 842 1070 822 1082C800 1070 782 1040 778 995ZM800 985C815 975 830 975 845 985C850 1010 835 1040 822 1050C808 1040 795 1010 800 985ZM822 1000V1040"  vector-effect="non-scaling-stroke"/>
<ellipse cx="708" cy="1122" rx="58" ry="17" transform="rotate(42 708 1122)" fill="#fff" vector-effect="non-scaling-stroke"/>
<ellipse cx="932" cy="1122" rx="58" ry="17" transform="rotate(-42 932 1122)" fill="#fff" vector-effect="non-scaling-stroke"/>
<ellipse cx="818" cy="1228" rx="38" ry="20" fill="#fff" vector-effect="non-scaling-stroke"/>
<path d="M760 1190C790 1180 850 1180 885 1192M780 1160L790 1175M850 1160L845 1178M690 960L710 955M720 945L740 950M650 1010L660 1030M640 1050L655 1045M930 960L950 968M960 950L985 960M1000 975L1020 985M990 1060L1010 1050M1010 1095L1025 1085M860 1100C870 1090 885 1090 895 1100M770 1100L780 1120M800 1135L805 1150M840 1135L838 1150M880 1150L900 1160M700 1060L715 1070M760 930L775 940M870 935L880 925" vector-effect="non-scaling-stroke"/>
<circle cx="795" cy="1168" r="7" vector-effect="non-scaling-stroke"/><circle cx="842" cy="1168" r="7" vector-effect="non-scaling-stroke"/>
</g>
<path d="M1074.9 525.3V559.2" stroke="#1f4a22" stroke-width="1.3"/><rect x="1071.1" y="501.6" width="7.6" height="23.7" fill="#fff" stroke="#8a8a8a" stroke-width="0.8"/><rect x="1071.4" y="511" width="7" height="14.3" fill="#28a23c"/><path d="M1071.6 499.5H1078.2M1074.9 499.5V501.6" stroke="#777" stroke-width="0.9" fill="none"/>
<path d="M1130.3 525.3V559.2" stroke="#1f4a22" stroke-width="1.3"/><rect x="1126.5" y="501.6" width="7.6" height="23.7" fill="#fff" stroke="#8a8a8a" stroke-width="0.8"/><rect x="1126.8" y="511" width="7" height="14.3" fill="#28a23c"/><path d="M1127 499.5H1133.6M1130.3 499.5V501.6" stroke="#777" stroke-width="0.9" fill="none"/>
<path d="M1095.8 569.3V603.2" stroke="#1f4a22" stroke-width="1.3"/><rect x="1092" y="546.2" width="7.6" height="23.1" fill="#fff" stroke="#8a8a8a" stroke-width="0.8"/><rect x="1092.3" y="555.2" width="7" height="14.1" fill="#28a23c"/><path d="M1092.5 544.1H1099.1M1095.8 544.1V546.2" stroke="#777" stroke-width="0.9" fill="none"/>
<path d="M1190.4 567.4V601" stroke="#1f4a22" stroke-width="1.3"/><rect x="1186.6" y="543.8" width="7.6" height="23.6" fill="#fff" stroke="#8a8a8a" stroke-width="0.8"/><rect x="1186.9" y="553.1" width="7" height="14.3" fill="#28a23c"/><path d="M1187.1 541.7H1193.7M1190.4 541.7V543.8" stroke="#777" stroke-width="0.9" fill="none"/>
<path d="M297.7 869.9V1212.5M289.2 1212.5H573" stroke="#000" stroke-width="2.6" fill="none" stroke-linecap="square"/>
<path d="M287.9 1143.98H297.7M287.9 1075.46H297.7M287.9 1006.94H297.7M287.9 938.42H297.7M287.9 869.9H297.7M331.7 1212.5V1222.3M400.8 1212.5V1222.3M469.4 1212.5V1222.3M538 1212.5V1222.3" stroke="#000" stroke-width="2.4" fill="none"/>
<text x="260.06" y="1220.4" font-size="34" fill="#231815" textLength="17.68" lengthAdjust="spacingAndGlyphs">0</text>
<text x="224.08" y="1151.6" font-size="34" fill="#231815" textLength="53.67" lengthAdjust="spacingAndGlyphs">200</text>
<text x="224.97" y="1082.7" font-size="34" fill="#231815" textLength="52.76" lengthAdjust="spacingAndGlyphs">400</text>
<text x="224.07" y="1014.8" font-size="34" fill="#231815" textLength="53.69" lengthAdjust="spacingAndGlyphs">600</text>
<text x="224.31" y="946" font-size="34" fill="#231815" textLength="53.44" lengthAdjust="spacingAndGlyphs">800</text>
<text x="207.29" y="878.5" font-size="34" fill="#231815" textLength="70.45" lengthAdjust="spacingAndGlyphs">1000</text>
<text x="322.23" y="1256.4" font-size="34" fill="#231815" textLength="17.28" lengthAdjust="spacingAndGlyphs">1</text>
<text x="388.56" y="1256.4" font-size="34" fill="#231815" textLength="18.19" lengthAdjust="spacingAndGlyphs">2</text>
<text x="459.8" y="1256.4" font-size="34" fill="#231815" textLength="17.48" lengthAdjust="spacingAndGlyphs">3</text>
<text x="525.85" y="1256.4" font-size="34" fill="#231815" textLength="18.1" lengthAdjust="spacingAndGlyphs">4</text>
<text x="343.94" y="1286.5" font-size="34" fill="#231815" textLength="185.02" lengthAdjust="spacingAndGlyphs">Training day</text>
<text transform="translate(162.2 1111.58) rotate(-90)" font-size="34" fill="#231815" textLength="156.61" lengthAdjust="spacingAndGlyphs">Latency to</text>
<text transform="translate(195.3 1135.68) rotate(-90)" font-size="34" fill="#231815" textLength="213.06" lengthAdjust="spacingAndGlyphs">food intake (s)</text>
<text x="345.24" y="817.6" font-size="39.5" fill="#231815" textLength="174.94" lengthAdjust="spacingAndGlyphs">Training A</text>
<text x="135.1" y="789.5" font-size="52" fill="#000" textLength="25.34" lengthAdjust="spacingAndGlyphs" class="pl">c</text>
<path d="M331.7 920.4V970.3M324.8 920.4H338.6M324.8 970.3H338.6M400.8 934V1001.9M393.9 934H407.7M393.9 1001.9H407.7M469.4 972.8V1048.6M462.5 972.8H476.3M462.5 1048.6H476.3M538 989V1066M531.1 989H544.9M531.1 1066H544.9" stroke="#3f6db4" stroke-width="2.5" fill="none"/>
<polyline points="331.7,945.2 400.8,967.6 469.4,1010.1 538,1028" stroke="#3f6db4" stroke-width="2.8" fill="none"/>
<circle cx="331.7" cy="945.2" r="6.9" fill="#3f6db4"/>
<circle cx="400.8" cy="967.6" r="6.9" fill="#3f6db4"/>
<circle cx="469.4" cy="1010.1" r="6.9" fill="#3f6db4"/>
<circle cx="538" cy="1028" r="6.9" fill="#3f6db4"/>
<path d="M331.7 963.4V1030.5M324.8 963.4H338.6M324.8 1030.5H338.6M400.8 1039.7V1115.7M393.9 1039.7H407.7M393.9 1115.7H407.7M469.4 1126.5V1176.4M462.5 1126.5H476.3M462.5 1176.4H476.3M538 1169.5V1189.3M531.1 1169.5H544.9M531.1 1189.3H544.9" stroke="#dc2b4a" stroke-width="2.5" fill="none"/>
<polyline points="331.7,996.9 400.8,1077.7 469.4,1151.6 538,1179.9" stroke="#dc2b4a" stroke-width="2.8" fill="none"/>
<circle cx="331.7" cy="996.9" r="6.9" fill="#dc2b4a"/>
<circle cx="400.8" cy="1077.7" r="6.9" fill="#dc2b4a"/>
<circle cx="469.4" cy="1151.6" r="6.9" fill="#dc2b4a"/>
<circle cx="538" cy="1179.9" r="6.9" fill="#dc2b4a"/>
<path d="M319.6 870H356.1" stroke="#dc2b4a" stroke-width="2.7"/><circle cx="337.7" cy="870" r="7.05" fill="#dc2b4a"/>
<path d="M319.6 908.2H356.1" stroke="#3f6db4" stroke-width="2.7"/><circle cx="337.7" cy="908.2" r="7.05" fill="#3f6db4"/>
<text x="361.89" y="881.7" font-size="34" fill="#231815" textLength="211.9" lengthAdjust="spacingAndGlyphs">Group1 (iSOS)</text>
<text x="361.84" y="920.9" font-size="34" fill="#231815" textLength="201.3" lengthAdjust="spacingAndGlyphs">Group2 (Ctrl.)</text>
<text x="555.74" y="1038.9" font-size="34" fill="#3f6db4" textLength="52.43" lengthAdjust="spacingAndGlyphs">n.s.</text>
<path d="M567 1175.8L567 1170.7M567 1175.8L571.85 1174.22M567 1175.8L570 1179.93M567 1175.8L564 1179.93M567 1175.8L562.15 1174.22" stroke="#cc3a66" stroke-width="1.85" fill="none"/><path d="M582.05 1175.8L582.05 1170.7M582.05 1175.8L586.9 1174.22M582.05 1175.8L585.05 1179.93M582.05 1175.8L579.05 1179.93M582.05 1175.8L577.2 1174.22" stroke="#cc3a66" stroke-width="1.85" fill="none"/><path d="M597.1 1175.8L597.1 1170.7M597.1 1175.8L601.95 1174.22M597.1 1175.8L600.1 1179.93M597.1 1175.8L594.1 1179.93M597.1 1175.8L592.25 1174.22" stroke="#cc3a66" stroke-width="1.85" fill="none"/>
<rect x="802.2" y="1025.3" width="50.8" height="188.6" fill="#dc2b4a"/>
<rect x="876.2" y="1137.6" width="50.8" height="76.3" fill="#3f6db4"/>
<path d="M827.8 1002.1V1026M810.8 1002.1H844.8" stroke="#d0406a" stroke-width="2.2" fill="none"/>
<path d="M901.3 1118.9V1138M884.3 1118.9H918.3" stroke="#3f6db4" stroke-width="2.2" fill="none"/>
<circle cx="827.9" cy="903.4" r="5.4" fill="#464858"/>
<circle cx="827.9" cy="982.3" r="5.4" fill="#464858"/>
<circle cx="827.9" cy="999" r="5.4" fill="#464858"/>
<circle cx="827.8" cy="1018.1" r="5.4" fill="#464858"/>
<circle cx="819.8" cy="1051.4" r="5.4" fill="#464858"/>
<circle cx="835.6" cy="1051.4" r="5.4" fill="#464858"/>
<circle cx="827.7" cy="1076.3" r="5.4" fill="#464858"/>
<circle cx="827.7" cy="1123.4" r="5.4" fill="#464858"/>
<circle cx="901.4" cy="1022.7" r="5.4" fill="#464858"/>
<circle cx="901.4" cy="1045.6" r="5.4" fill="#464858"/>
<circle cx="885.2" cy="1126.8" r="5.4" fill="#464858"/>
<circle cx="917.3" cy="1136" r="5.4" fill="#464858"/>
<circle cx="901.5" cy="1141" r="5.4" fill="#464858"/>
<circle cx="893.6" cy="1159.7" r="5.4" fill="#464858"/>
<circle cx="909.4" cy="1174.4" r="5.4" fill="#464858"/>
<circle cx="885.2" cy="1186.8" r="5.4" fill="#464858"/>
<circle cx="917.3" cy="1187.9" r="5.4" fill="#464858"/>
<circle cx="901.5" cy="1199.2" r="5.4" fill="#464858"/>
<path d="M761.4 866.8V1213.9M752.9 1213.9H969.2" stroke="#000" stroke-width="2.6" fill="none" stroke-linecap="square"/>
<path d="M751.6 1098.2H761.4M751.6 982.5H761.4M751.6 866.8H761.4M827.5 1213.9V1223.7M901.2 1213.9V1223.7" stroke="#000" stroke-width="2.4" fill="none"/>
<text x="727.29" y="1220" font-size="34" fill="#231815" textLength="17.22" lengthAdjust="spacingAndGlyphs">0</text>
<text x="709.92" y="1111.7" font-size="34" fill="#231815" textLength="34.68" lengthAdjust="spacingAndGlyphs">15</text>
<text x="708.57" y="993.3" font-size="34" fill="#231815" textLength="36" lengthAdjust="spacingAndGlyphs">30</text>
<text x="708.56" y="878" font-size="34" fill="#231815" textLength="36.11" lengthAdjust="spacingAndGlyphs">45</text>
<text x="782.74" y="1256.8" font-size="34" fill="#231815" textLength="71.87" lengthAdjust="spacingAndGlyphs">iSOS</text>
<text x="883.44" y="1256.8" font-size="34" fill="#231815" textLength="63.63" lengthAdjust="spacingAndGlyphs">Ctrl.</text>
<text x="754.93" y="1286.7" font-size="34" fill="#231815" textLength="110.48" lengthAdjust="spacingAndGlyphs">Group1</text>
<text x="872.72" y="1286.7" font-size="34" fill="#231815" textLength="111.26" lengthAdjust="spacingAndGlyphs">Group2</text>
<text transform="translate(657.4 1104.27) rotate(-90)" font-size="34" fill="#231815" textLength="165.83" lengthAdjust="spacingAndGlyphs">Occupancy</text>
<text transform="translate(689.8 1142.63) rotate(-90)" font-size="34" fill="#231815" textLength="242.9" lengthAdjust="spacingAndGlyphs">in food zone (%)</text>
<text x="783.69" y="817.7" font-size="39.5" fill="#231815" textLength="104.58" lengthAdjust="spacingAndGlyphs">Test A</text>
<text x="629.55" y="789.3" font-size="54.5" fill="#000" textLength="29.8" lengthAdjust="spacingAndGlyphs" class="pl">d</text>
<path d="M845.8 867.9L845.8 863M845.8 867.9L850.46 866.39M845.8 867.9L848.68 871.86M845.8 867.9L842.92 871.86M845.8 867.9L841.14 866.39" stroke="#231815" stroke-width="1.85" fill="none"/><path d="M860.9 867.9L860.9 863M860.9 867.9L865.56 866.39M860.9 867.9L863.78 871.86M860.9 867.9L858.02 871.86M860.9 867.9L856.24 866.39" stroke="#231815" stroke-width="1.85" fill="none"/>
<path d="M1193.2 869.9V1212.9M1184.7 1212.9H1467.8" stroke="#000" stroke-width="2.6" fill="none" stroke-linecap="square"/>
<path d="M1183.4 1144.3H1193.2M1183.4 1075.7H1193.2M1183.4 1007.1H1193.2M1183.4 938.5H1193.2M1183.4 869.9H1193.2M1227 1212.9V1222.7M1295.8 1212.9V1222.7M1364.7 1212.9V1222.7M1433.3 1212.9V1222.7" stroke="#000" stroke-width="2.4" fill="none"/>
<text x="1155.56" y="1219.8" font-size="34" fill="#231815" textLength="17.68" lengthAdjust="spacingAndGlyphs">0</text>
<text x="1119.58" y="1151.5" font-size="34" fill="#231815" textLength="53.67" lengthAdjust="spacingAndGlyphs">200</text>
<text x="1120.47" y="1082.6" font-size="34" fill="#231815" textLength="52.76" lengthAdjust="spacingAndGlyphs">400</text>
<text x="1119.57" y="1014.8" font-size="34" fill="#231815" textLength="53.69" lengthAdjust="spacingAndGlyphs">600</text>
<text x="1119.81" y="946.5" font-size="34" fill="#231815" textLength="53.44" lengthAdjust="spacingAndGlyphs">800</text>
<text x="1102.79" y="878.5" font-size="34" fill="#231815" textLength="70.45" lengthAdjust="spacingAndGlyphs">1000</text>
<text x="1217.23" y="1253.4" font-size="34" fill="#231815" textLength="17.28" lengthAdjust="spacingAndGlyphs">1</text>
<text x="1283.56" y="1253.4" font-size="34" fill="#231815" textLength="18.19" lengthAdjust="spacingAndGlyphs">2</text>
<text x="1354.8" y="1253.4" font-size="34" fill="#231815" textLength="17.48" lengthAdjust="spacingAndGlyphs">3</text>
<text x="1420.85" y="1253.4" font-size="34" fill="#231815" textLength="18.1" lengthAdjust="spacingAndGlyphs">4</text>
<text x="1238.94" y="1283.5" font-size="34" fill="#231815" textLength="185.02" lengthAdjust="spacingAndGlyphs">Training day</text>
<text transform="translate(1058 1089.81) rotate(-90)" font-size="34" fill="#231815" textLength="158.25" lengthAdjust="spacingAndGlyphs">Latency to</text>
<text transform="translate(1090.1 1114.68) rotate(-90)" font-size="34" fill="#231815" textLength="213.06" lengthAdjust="spacingAndGlyphs">food intake (s)</text>
<text x="1239.82" y="817.6" font-size="39.5" fill="#231815" textLength="178.65" lengthAdjust="spacingAndGlyphs">Training B</text>
<text x="1029.9" y="789.4" font-size="52" fill="#000" textLength="27.5" lengthAdjust="spacingAndGlyphs" class="pl">e</text>
<path d="M1227 1014.8V1096.8M1220.1 1014.8H1233.9M1220.1 1096.8H1233.9M1295.8 1049.6V1115.4M1288.9 1049.6H1302.7M1288.9 1115.4H1302.7M1364.7 1146V1174.6M1357.8 1146H1371.6M1357.8 1174.6H1371.6" stroke="#3f6db4" stroke-width="2.5" fill="none"/>
<polyline points="1227,1055.8 1295.8,1082.6 1364.7,1160.2 1433.3,1195" stroke="#3f6db4" stroke-width="2.8" fill="none"/>
<circle cx="1227" cy="1055.8" r="6.9" fill="#3f6db4"/>
<circle cx="1295.8" cy="1082.6" r="6.9" fill="#3f6db4"/>
<circle cx="1364.7" cy="1160.2" r="6.9" fill="#3f6db4"/>
<circle cx="1433.3" cy="1195" r="6.9" fill="#3f6db4"/>
<path d="M1227 1053.8V1137.8M1220.1 1053.8H1233.9M1220.1 1137.8H1233.9M1295.8 1066.2V1144.8M1288.9 1066.2H1302.7M1288.9 1144.8H1302.7M1364.7 1043.9V1129.1M1357.8 1043.9H1371.6M1357.8 1129.1H1371.6M1433.3 1062V1153.2M1426.4 1062H1440.2M1426.4 1153.2H1440.2" stroke="#dc2b4a" stroke-width="2.5" fill="none"/>
<polyline points="1227,1096.3 1295.8,1105.5 1364.7,1086.9 1433.3,1108" stroke="#dc2b4a" stroke-width="2.8" fill="none"/>
<circle cx="1227" cy="1096.3" r="6.9" fill="#dc2b4a"/>
<circle cx="1295.8" cy="1105.5" r="6.9" fill="#dc2b4a"/>
<circle cx="1364.7" cy="1086.9" r="6.9" fill="#dc2b4a"/>
<circle cx="1433.3" cy="1108" r="6.9" fill="#dc2b4a"/>
<path d="M1214.3 870H1251.6" stroke="#dc2b4a" stroke-width="2.7"/><circle cx="1233" cy="870" r="7.05" fill="#dc2b4a"/>
<path d="M1214.3 908.2H1251.6" stroke="#3f6db4" stroke-width="2.7"/><circle cx="1233" cy="908.2" r="7.05" fill="#3f6db4"/>
<text x="1263.83" y="881.7" font-size="34" fill="#231815" textLength="203.03" lengthAdjust="spacingAndGlyphs">Group1 (Ctrl.)</text>
<text x="1263.89" y="920.9" font-size="34" fill="#231815" textLength="211.59" lengthAdjust="spacingAndGlyphs">Group2 (iSOS)</text>
<text x="1446.79" y="1114.8" font-size="34" fill="#cc3b66" textLength="51.32" lengthAdjust="spacingAndGlyphs">n.s.</text>
<path d="M1455 1191L1455 1186M1455 1191L1459.76 1189.45M1455 1191L1457.94 1195.05M1455 1191L1452.06 1195.05M1455 1191L1450.24 1189.45" stroke="#3f6db4" stroke-width="1.85" fill="none"/><path d="M1470 1191L1470 1186M1470 1191L1474.76 1189.45M1470 1191L1472.94 1195.05M1470 1191L1467.06 1195.05M1470 1191L1465.24 1189.45" stroke="#3f6db4" stroke-width="1.85" fill="none"/><path d="M1485 1191L1485 1186M1485 1191L1489.76 1189.45M1485 1191L1487.94 1195.05M1485 1191L1482.06 1195.05M1485 1191L1480.24 1189.45" stroke="#3f6db4" stroke-width="1.85" fill="none"/>
<rect x="1701.3" y="1127" width="50.6" height="89.6" fill="#dc2b4a"/>
<rect x="1773.3" y="996.9" width="50.7" height="219.7" fill="#3f6db4"/>
<path d="M1726.1 1105.4V1127.5M1709.1 1105.4H1743.1" stroke="#d0406a" stroke-width="2.2" fill="none"/>
<path d="M1798.7 971.7V997.5M1781.7 971.7H1815.7" stroke="#3f6db4" stroke-width="2.2" fill="none"/>
<circle cx="1798.7" cy="892.8" r="5.4" fill="#464858"/>
<circle cx="1790.7" cy="918.6" r="5.4" fill="#464858"/>
<circle cx="1806.8" cy="915" r="5.4" fill="#464858"/>
<circle cx="1798.7" cy="944.2" r="5.4" fill="#464858"/>
<circle cx="1798.7" cy="967.9" r="5.4" fill="#464858"/>
<circle cx="1798.8" cy="1036.1" r="5.4" fill="#464858"/>
<circle cx="1806.7" cy="1044.4" r="5.4" fill="#464858"/>
<circle cx="1790.9" cy="1056.4" r="5.4" fill="#464858"/>
<circle cx="1798.8" cy="1078.3" r="5.4" fill="#464858"/>
<circle cx="1798.8" cy="1113.9" r="5.4" fill="#464858"/>
<circle cx="1726.1" cy="1059.8" r="5.4" fill="#464858"/>
<circle cx="1734" cy="1066.6" r="5.4" fill="#464858"/>
<circle cx="1718.2" cy="1078.5" r="5.4" fill="#464858"/>
<circle cx="1726.1" cy="1095.9" r="5.4" fill="#464858"/>
<circle cx="1734" cy="1153.9" r="5.4" fill="#464858"/>
<circle cx="1718.2" cy="1159.5" r="5.4" fill="#464858"/>
<circle cx="1726.1" cy="1190.2" r="5.4" fill="#464858"/>
<circle cx="1726.1" cy="1213.2" r="5.4" fill="#464858"/>
<path d="M1659.8 869.5V1216.6M1651.3 1216.6H1868.1" stroke="#000" stroke-width="2.6" fill="none" stroke-linecap="square"/>
<path d="M1650 1100.9H1659.8M1650 985.2H1659.8M1650 869.5H1659.8M1726.1 1216.6V1226.4M1799.9 1216.6V1226.4" stroke="#000" stroke-width="2.4" fill="none"/>
<text x="1622.19" y="1220" font-size="34" fill="#231815" textLength="17.22" lengthAdjust="spacingAndGlyphs">0</text>
<text x="1604.82" y="1114.5" font-size="34" fill="#231815" textLength="34.68" lengthAdjust="spacingAndGlyphs">15</text>
<text x="1603.47" y="994.3" font-size="34" fill="#231815" textLength="36" lengthAdjust="spacingAndGlyphs">30</text>
<text x="1603.46" y="878.7" font-size="34" fill="#231815" textLength="36.11" lengthAdjust="spacingAndGlyphs">45</text>
<text x="1695.73" y="1253.5" font-size="34" fill="#231815" textLength="63.74" lengthAdjust="spacingAndGlyphs">Ctrl.</text>
<text x="1783.97" y="1253.5" font-size="34" fill="#231815" textLength="70.72" lengthAdjust="spacingAndGlyphs">iSOS</text>
<text x="1650.65" y="1283.8" font-size="34" fill="#231815" textLength="109.56" lengthAdjust="spacingAndGlyphs">Group1</text>
<text x="1774.32" y="1283.8" font-size="34" fill="#231815" textLength="111.36" lengthAdjust="spacingAndGlyphs">Group2</text>
<text transform="translate(1553.3 1105.87) rotate(-90)" font-size="34" fill="#231815" textLength="165.53" lengthAdjust="spacingAndGlyphs">Occupancy</text>
<text transform="translate(1585.6 1144.53) rotate(-90)" font-size="34" fill="#231815" textLength="242.9" lengthAdjust="spacingAndGlyphs">in food zone (%)</text>
<text x="1678.36" y="817.7" font-size="39.5" fill="#231815" textLength="108.01" lengthAdjust="spacingAndGlyphs">Test B</text>
<text x="1525.25" y="789.3" font-size="54.5" fill="#000" textLength="16.77" lengthAdjust="spacingAndGlyphs" class="pl">f</text>
<path d="M1754.9 882.3L1754.9 877.7M1754.9 882.3L1759.27 880.88M1754.9 882.3L1757.6 886.02M1754.9 882.3L1752.2 886.02M1754.9 882.3L1750.53 880.88" stroke="#231815" stroke-width="1.85" fill="none"/><path d="M1768.3 882.3L1768.3 877.7M1768.3 882.3L1772.67 880.88M1768.3 882.3L1771 886.02M1768.3 882.3L1765.6 886.02M1768.3 882.3L1763.93 880.88" stroke="#231815" stroke-width="1.85" fill="none"/><path d="M1781.7 882.3L1781.7 877.7M1781.7 882.3L1786.07 880.88M1781.7 882.3L1784.4 886.02M1781.7 882.3L1779 886.02M1781.7 882.3L1777.33 880.88" stroke="#231815" stroke-width="1.85" fill="none"/>
</svg>
</body></html>
